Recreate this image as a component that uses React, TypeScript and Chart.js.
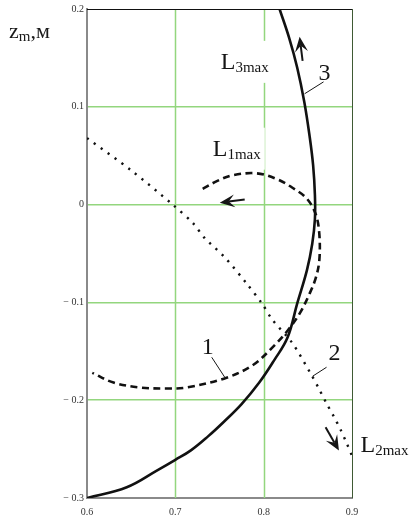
import { useEffect, useRef } from "react";
import { Chart, registerables } from "chart.js";

Chart.register(...registerables);

// Axis ticks
const xTicks = [0.6, 0.7, 0.8, 0.9];
const zTicks = [-0.3, -0.2, -0.1, 0, 0.1, 0.2];

// Curve 1 — L1max trajectory (dashed)
const curve1X = [0.731, 0.747, 0.765, 0.792, 0.815, 0.833, 0.849, 0.859, 0.863, 0.863, 0.859, 0.852, 0.841, 0.827, 0.81, 0.788, 0.758, 0.713, 0.69, 0.66, 0.63, 0.606];
const curve1Z = [0.016, 0.024, 0.03, 0.032, 0.026, 0.017, 0.006, -0.01, -0.03, -0.057, -0.075, -0.091, -0.111, -0.129, -0.146, -0.164, -0.177, -0.187, -0.188, -0.187, -0.182, -0.172];

// Curve 2 — L2max trajectory (dotted)
const curve2X = [0.6, 0.65, 0.697, 0.72, 0.733, 0.756, 0.781, 0.798, 0.81, 0.832, 0.854, 0.863, 0.871, 0.879, 0.887, 0.894, 0.9];
const curve2Z = [0.068, 0.035, 0.0, -0.019, -0.034, -0.054, -0.081, -0.101, -0.118, -0.141, -0.174, -0.189, -0.203, -0.216, -0.23, -0.244, -0.257];

// Curve 3 — L3max trajectory (solid)
const curve3X = [0.6, 0.645, 0.679, 0.7, 0.718, 0.737, 0.755, 0.775, 0.795, 0.812, 0.827, 0.838, 0.849, 0.855, 0.858, 0.858, 0.856, 0.852, 0.846, 0.838, 0.829, 0.818];
const curve3Z = [-0.3, -0.289, -0.272, -0.261, -0.251, -0.237, -0.222, -0.204, -0.182, -0.159, -0.136, -0.101, -0.067, -0.04, -0.015, 0.01, 0.04, 0.07, 0.105, 0.14, 0.17, 0.2];

const SERIF = '"Liberation Serif", "Times New Roman", serif';
const GRID = "#93d67e";

const pts = (xs: number[], zs: number[]) => xs.map((x, i) => ({ x, y: zs[i] }));

// Text annotations, placed in data coordinates
const subLabels = [
  { main: "L", sub: "3max", x: 0.7514, y: 0.1388, patch: true },
  { main: "L", sub: "1max", x: 0.7424, y: 0.05, patch: true },
  { main: "L", sub: "2max", x: 0.9096, y: -0.2531, patch: false },
];
const numLabels = [
  { text: "3", x: 0.869, y: 0.1276 },
  { text: "1", x: 0.7367, y: -0.153 },
  { text: "2", x: 0.8802, y: -0.159 },
];
const leaders = [
  [0.8678, 0.1255, 0.8463, 0.1133],
  [0.7412, -0.1561, 0.7559, -0.1765],
  [0.8712, -0.1663, 0.8554, -0.1755],
];
const arrows = [
  [0.8441, 0.147, 0.8407, 0.1715],
  [0.7785, 0.0051, 0.7503, 0.002],
  [0.8701, -0.2276, 0.8852, -0.2515],
];

function drawArrow(ctx: CanvasRenderingContext2D, x1: number, y1: number, x2: number, y2: number) {
  const dx = x2 - x1;
  const dy = y2 - y1;
  const len = Math.hypot(dx, dy);
  const ux = dx / len;
  const uy = dy / len;
  const px = -uy;
  const py = ux;
  const head = 15;
  const half = 6.5;
  ctx.lineWidth = 2;
  ctx.beginPath();
  ctx.moveTo(x1, y1);
  ctx.lineTo(x2 - ux * head * 0.6, y2 - uy * head * 0.6);
  ctx.stroke();
  ctx.beginPath();
  ctx.moveTo(x2, y2);
  ctx.lineTo(x2 - ux * head + px * half, y2 - uy * head + py * half);
  ctx.lineTo(x2 - ux * head * 0.6, y2 - uy * head * 0.6);
  ctx.lineTo(x2 - ux * head - px * half, y2 - uy * head - py * half);
  ctx.closePath();
  ctx.fill();
}

const notesPlugin = {
  id: "notes",
  beforeDatasetsDraw(chart: any) {
    const { ctx, chartArea, scales } = chart;
    const sx = scales.x;
    const sy = scales.y;
    ctx.save();
    // vertical grid lines at the inner x ticks
    ctx.lineWidth = 1.5;
    ctx.strokeStyle = GRID;
    for (const v of xTicks) {
      const px = Math.round(sx.getPixelForValue(v)) + 0.5;
      if (px <= chartArea.left + 2 || px >= chartArea.right - 1) continue;
      ctx.beginPath();
      ctx.moveTo(px, chartArea.top);
      ctx.lineTo(px, chartArea.bottom);
      ctx.stroke();
    }
    // top and right frame lines
    ctx.lineWidth = 1;
    ctx.strokeStyle = "#111";
    ctx.beginPath();
    ctx.moveTo(chartArea.left, chartArea.top + 0.5);
    ctx.lineTo(chartArea.right, chartArea.top + 0.5);
    ctx.stroke();
    ctx.strokeStyle = "#3f5a34";
    ctx.beginPath();
    ctx.moveTo(chartArea.right + 0.5, chartArea.top);
    ctx.lineTo(chartArea.right + 0.5, chartArea.bottom);
    ctx.stroke();
    // white patches behind in-plot labels
    ctx.fillStyle = "#fff";
    for (const l of subLabels) {
      if (!l.patch) continue;
      ctx.font = `24px ${SERIF}`;
      const w1 = ctx.measureText(l.main).width;
      ctx.font = `15px ${SERIF}`;
      const w2 = ctx.measureText(l.sub).width;
      const bx = sx.getPixelForValue(l.x);
      const by = sy.getPixelForValue(l.y);
      ctx.fillRect(bx - 3, by - 28, w1 + w2 + 7, 42);
    }
    ctx.restore();
  },
  afterDraw(chart: any) {
    const { ctx, scales } = chart;
    const sx = scales.x;
    const sy = scales.y;
    const X = (v: number) => sx.getPixelForValue(v);
    const Y = (v: number) => sy.getPixelForValue(v);
    ctx.save();
    ctx.fillStyle = "#151515";
    ctx.strokeStyle = "#151515";
    ctx.textBaseline = "alphabetic";

    for (const l of subLabels) {
      const bx = X(l.x);
      const by = Y(l.y);
      ctx.font = `24px ${SERIF}`;
      ctx.textAlign = "left";
      ctx.fillText(l.main, bx, by);
      const w1 = ctx.measureText(l.main).width;
      ctx.font = `15px ${SERIF}`;
      ctx.fillText(l.sub, bx + w1, by + 3);
    }

    ctx.font = `24px ${SERIF}`;
    ctx.textAlign = "center";
    for (const n of numLabels) ctx.fillText(n.text, X(n.x), Y(n.y));

    ctx.lineWidth = 1;
    for (const [a, b, c, d] of leaders) {
      ctx.beginPath();
      ctx.moveTo(X(a), Y(b));
      ctx.lineTo(X(c), Y(d));
      ctx.stroke();
    }

    for (const [a, b, c, d] of arrows) drawArrow(ctx, X(a), Y(b), X(c), Y(d));

    // vertical axis title: z_m, м
    ctx.textAlign = "left";
    ctx.fillStyle = "#1a1a1a";
    ctx.font = `22px ${SERIF}`;
    ctx.fillText("z", 9, 38);
    const wz = ctx.measureText("z").width;
    ctx.font = `15px ${SERIF}`;
    ctx.fillText("m", 9 + wz, 41);
    const wm = ctx.measureText("m").width;
    ctx.font = `22px ${SERIF}`;
    ctx.fillText(",м", 9 + wz + wm, 38);
    ctx.restore();
  },
};

const fmt = (v: number) => {
  const r = Math.round(v * 10) / 10;
  if (r === 0) return "0";
  if (r < 0) return "\u2212 " + Math.abs(r).toFixed(1);
  return r.toFixed(1);
};

// horizontal grid: skip the lines that coincide with the frame
const zGridColor = (c: any) => {
  const v = c.tick ? c.tick.value : 0;
  return Math.abs(v - 0.2) < 1e-6 || Math.abs(v + 0.3) < 1e-6 ? "rgba(0,0,0,0)" : GRID;
};

export default function App() {
  const ref = useRef<HTMLCanvasElement | null>(null);

  useEffect(() => {
    if (!ref.current) return;
    const chart = new Chart(ref.current, {
      type: "scatter",
      data: {
        datasets: [
          {
            label: "1",
            data: pts(curve1X, curve1Z),
            showLine: true,
            borderColor: "#111",
            borderWidth: 2.6,
            borderDash: [7, 4.5],
            pointRadius: 0,
            tension: 0.35,
            fill: false,
          },
          {
            label: "2",
            data: pts(curve2X, curve2Z),
            showLine: true,
            borderColor: "#111",
            borderWidth: 2.4,
            borderDash: [2.2, 6.3],
            pointRadius: 0,
            tension: 0.3,
            fill: false,
          },
          {
            label: "3",
            data: pts(curve3X, curve3Z),
            showLine: true,
            borderColor: "#111",
            borderWidth: 2.6,
            pointRadius: 0,
            tension: 0.4,
            fill: false,
          },
        ],
      },
      options: {
        responsive: false,
        animation: false,
        devicePixelRatio: 1,
        layout: { padding: { top: 8, right: 58, bottom: 0, left: 0 } },
        plugins: {
          legend: { display: false },
          tooltip: { enabled: false },
        },
        scales: {
          x: {
            type: "linear",
            min: 0.6,
            max: 0.9,
            afterBuildTicks: (s: any) => {
              s.ticks = xTicks.map((v) => ({ value: v }));
            },
            afterFit: (s: any) => {
              s.height = 19;
            },
            grid: { display: false, drawTicks: false },
            border: { color: "#8a8a8a", width: 2 },
            ticks: {
              padding: 8,
              color: "#333",
              font: { family: SERIF, size: 10 },
              callback: (v: any) => fmt(Number(v)),
              maxRotation: 0,
            },
          },
          y: {
            type: "linear",
            min: -0.3,
            max: 0.2,
            afterBuildTicks: (s: any) => {
              s.ticks = zTicks.map((v) => ({ value: v }));
            },
            afterFit: (s: any) => {
              s.width = 87;
            },
            grid: { color: zGridColor, lineWidth: 1.5, drawTicks: false },
            border: { color: "#8a8a8a", width: 2 },
            ticks: {
              padding: 3,
              color: "#333",
              font: { family: SERIF, size: 10 },
              callback: (v: any) => fmt(Number(v)),
            },
          },
        },
      },
      plugins: [notesPlugin],
    });
    return () => chart.destroy();
  }, []);

  return (
    <div style={{ position: "fixed", left: 0, top: 0, width: 410, height: 517, background: "#fff" }}>
      <canvas ref={ref} width={410} height={517} style={{ display: "block" }} />
    </div>
  );
}
